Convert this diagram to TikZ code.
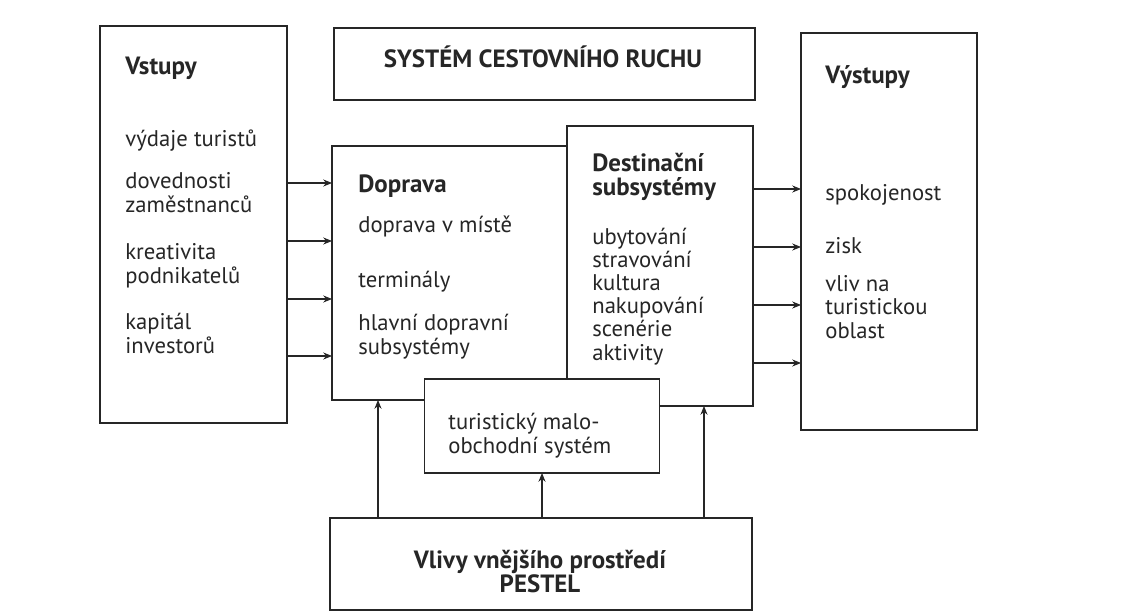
\documentclass[tikz,border=0pt]{standalone}
\usepackage{fontspec}
\setmainfont{PT Sans}
\usetikzlibrary{positioning,arrows.meta}

\begin{document}
\begin{tikzpicture}[
        x=0.02cm, y=-0.02cm,
        font=\fontsize{12.9}{13.1}\selectfont,
        box/.style={draw=black!85, line width=0.7pt, fill=white, inner sep=0pt, outer sep=0pt},
        head/.style={font=\fontsize{14.2}{13.1}\selectfont\bfseries, text=black!85, inner sep=0pt},
        item/.style={anchor=base west, align=left, text=black!85, inner sep=0pt},
        arrow/.style={-{Stealth[length=5pt,width=4pt]}, line width=0.6pt, black!85}
    ]
    \useasboundingbox (0,0) rectangle (1134,612);

    % --- BOXES ---
    \node[box, minimum width=3.74cm, minimum height=7.94cm] (vstupy) at (193.5,224.5) {};
    \node[box, minimum width=8.42cm, minimum height=1.44cm] (system) at (544.5,64) {};
    \node[box, minimum width=4.70cm, minimum height=5.08cm] (doprava) at (449.5,273) {};
    \node[box, minimum width=3.72cm, minimum height=5.60cm] (destinace) at (660,266) {};
    \node[box, minimum width=4.70cm, minimum height=1.88cm] (obchod) at (542,426) {};
    \node[box, minimum width=3.52cm, minimum height=7.94cm] (vystupy) at (889,231.5) {};
    \node[box, minimum width=8.44cm, minimum height=1.84cm] (vlivy) at (541,564) {};

    % --- TEXTS ---
    \node[head, anchor=base] (tsystem) at (543,68) {SYSTÉM CESTOVNÍHO RUCHU};

    % Vstupy (multi-line: base = last line)
    \node[head, anchor=base west] (tvstupy) at (125,74) {Vstupy};
    \node[item] (v1) at (125,146) {výdaje turistů};
    \node[item] (v2) at (125,212) {dovednosti\\zaměstnanců};
    \node[item] (v3) at (125,283) {kreativita\\podnikatelů};
    \node[item] (v4) at (125,353) {kapitál\\investorů};

    % Doprava
    \node[head, anchor=base west] (tdoprava) at (358,192) {Doprava};
    \node[item] (d1) at (358,232) {doprava v místě};
    \node[item] (d2) at (358,287) {terminály};
    \node[item] (d3) at (358,354) {hlavní dopravní\\subsystémy};

    % Destinacni subsystemy
    \node[head, anchor=base west, align=left] (tdest) at (592,195) {Destinační\\subsystémy};
    \node[item] (s1) at (592,360) {ubytování\\stravování\\kultura\\nakupování\\scenérie\\aktivity};

    % Vystupy
    \node[head, anchor=base west] (tvystupy) at (825,83) {Výstupy};
    \node[item] (o1) at (825,200) {spokojenost};
    \node[item] (o2) at (825,253) {zisk};
    \node[item] (o3) at (825,338) {vliv na\\turistickou\\oblast};

    % maloobchod + PESTEL
    \node[item] (tobchod) at (448,453) {turistický malo-\\obchodní systém};
    \node[head, anchor=base, align=center] (tvlivy) at (540,592) {Vlivy vnějšího prostředí\\PESTEL};

    % --- ARROWS ---
    \foreach \y in {183,241,299,356}
        \draw[arrow] (vstupy.east |- 0,\y) -- (doprava.west |- 0,\y);
    \foreach \y in {189,247,305,363}
        \draw[arrow] (destinace.east |- 0,\y) -- (vystupy.west |- 0,\y);

    \draw[arrow] (vlivy.north -| 378,0) -- (doprava.south -| 378,0);
    \draw[arrow] (vlivy.north -| obchod.south) -- (obchod.south);
    \draw[arrow] (vlivy.north -| 704,0) -- (destinace.south -| 704,0);

\end{tikzpicture}
\end{document}
